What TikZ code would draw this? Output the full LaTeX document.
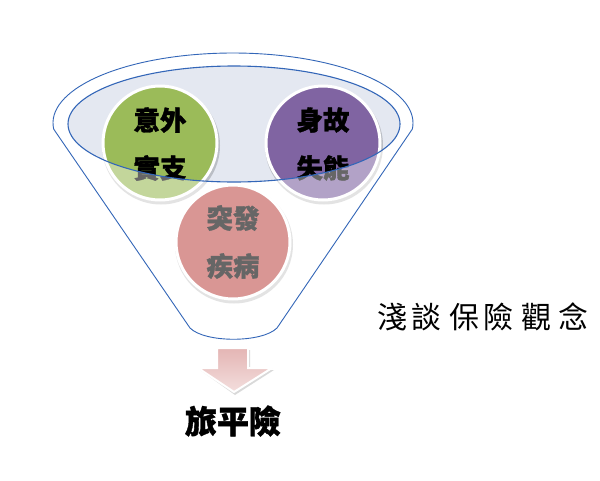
\documentclass[tikz,border=0pt]{standalone}
\usepackage{fontspec}
\newfontfamily\cjk{Noto Sans CJK TC}[BoldFeatures={FakeBold=1.2}]
\definecolor{fgreen}{HTML}{9BBB59}
\definecolor{fpurple}{HTML}{8064A2}
\definecolor{fred}{HTML}{C0504D}
\definecolor{ellfill}{HTML}{E4E8F1}
\definecolor{fline}{HTML}{3366B8}
\definecolor{arrtop}{HTML}{E4B5B4}
\definecolor{arrbot}{HTML}{F3DEDD}
\tikzset{
  ball/.style={circle, minimum size=114pt, inner sep=0pt, draw=white, line width=3pt},
  balltxt/.style={font=\cjk\bfseries\fontsize{26.5}{26.5}\selectfont, text=black},
  ttl/.style={font=\cjk\fontsize{30}{30}\selectfont, text=black},
}
\begin{document}
\begin{tikzpicture}[x=1pt,y=-1pt]
\useasboundingbox (0,0) rectangle (600,480);
\fill[white] (0,0) rectangle (600,480);
% inner ellipse fill
\fill[ellfill] (234,124) ellipse [x radius=166, y radius=58];
% circles with shadows
\foreach \p in {(160,143),(323,143),(233,242)}
  \fill[black, opacity=0.18] \p ++(1,2.5) circle (59);
\node[ball, fill=fgreen] (g) at (160,143) {};
\node[ball, fill=fpurple] (p) at (323,143) {};
\node[ball, fill=fred] (r) at (233,242) {};
\node[balltxt] (g1) at (160,120) {意外};
\node[balltxt] (g2) at (160,168) {實支};
\node[balltxt] (p1) at (323,120) {身故};
\node[balltxt] (p2) at (323,168) {失能};
\node[balltxt] (r1) at (233,218) {突發};
\node[balltxt] (r2) at (233,266) {疾病};
% white overlay on funnel body outside the inner ellipse
\fill[white, opacity=0.4, even odd rule]
  (233,123) ++(175:180 and 70) arc [start angle=175, end angle=365, x radius=180, y radius=70]
  -- (277,328) .. controls (262,343) and (205,343) .. (190,328) -- cycle
  (234,124) ellipse [x radius=166, y radius=58];
% funnel outline
\draw[fline, line width=0.9pt, line join=round]
  (233,123) ++(175:180 and 70) arc [start angle=175, end angle=365, x radius=180, y radius=70]
  -- (277,328) .. controls (262,343) and (205,343) .. (190,328) -- cycle;
\draw[fline, line width=1.1pt] (234,124) ellipse [x radius=166, y radius=58];
% arrow
\fill[black, opacity=0.15] (218,350) -- (250,350) -- (250,370) -- (274,370) -- (235,395) -- (200,370) -- (218,370) -- cycle;
\draw[white, line width=2pt, top color=arrtop, bottom color=arrbot, line join=miter]
  (217,348) -- (248,348) -- (248,368) -- (272,368) -- (234,392) -- (198,368) -- (217,368) -- cycle;
% label under arrow
\node[font=\cjk\bfseries\fontsize{32}{32}\selectfont, text=black] (out) at (233,421) {旅平險};
% title
\foreach \c/\x [count=\i] in {淺/392,談/426,保/464,險/498,觀/536,念/573} {
  \node[ttl] (t\i) at (\x,317) {\c};
}
\end{tikzpicture}
\end{document}
